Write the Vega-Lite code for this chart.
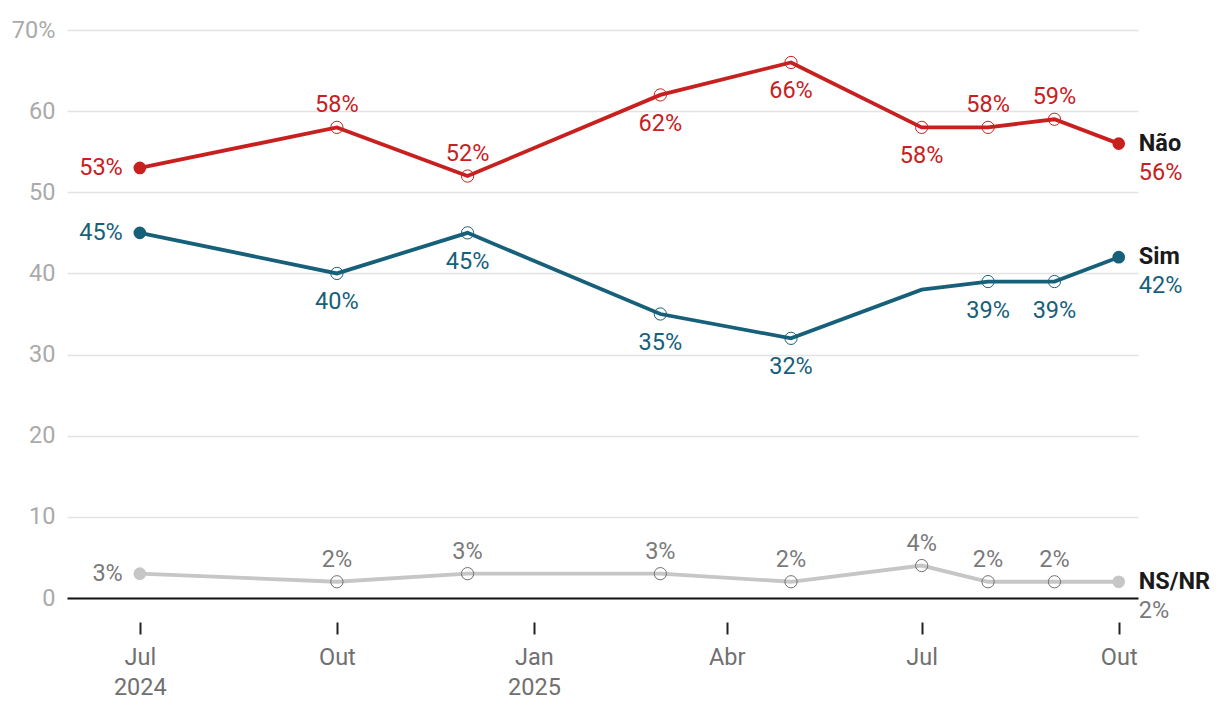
{
  "$schema": "https://vega.github.io/schema/vega-lite/v6.json",
  "width": 1071,
  "height": 568,
  "autosize": {"type": "none"},
  "padding": {"left": 67, "top": 30, "right": 82, "bottom": 114},
  "background": "white",
  "config": {"font": "Roboto", "view": {"stroke": null}},
  "data": {
    "values": [
      {"date": "2024-07-01T00:00:00", "series": "Não", "value": 53},
      {"date": "2024-10-01T00:00:00", "series": "Não", "value": 58},
      {"date": "2024-12-01T00:00:00", "series": "Não", "value": 52},
      {"date": "2025-03-01T00:00:00", "series": "Não", "value": 62},
      {"date": "2025-05-01T00:00:00", "series": "Não", "value": 66},
      {"date": "2025-07-01T00:00:00", "series": "Não", "value": 58},
      {"date": "2025-08-01T00:00:00", "series": "Não", "value": 58},
      {"date": "2025-09-01T00:00:00", "series": "Não", "value": 59},
      {"date": "2025-10-01T00:00:00", "series": "Não", "value": 56},
      {"date": "2024-07-01T00:00:00", "series": "Sim", "value": 45},
      {"date": "2024-10-01T00:00:00", "series": "Sim", "value": 40},
      {"date": "2024-12-01T00:00:00", "series": "Sim", "value": 45},
      {"date": "2025-03-01T00:00:00", "series": "Sim", "value": 35},
      {"date": "2025-05-01T00:00:00", "series": "Sim", "value": 32},
      {"date": "2025-07-01T00:00:00", "series": "Sim", "value": 38},
      {"date": "2025-08-01T00:00:00", "series": "Sim", "value": 39},
      {"date": "2025-09-01T00:00:00", "series": "Sim", "value": 39},
      {"date": "2025-10-01T00:00:00", "series": "Sim", "value": 42},
      {"date": "2024-07-01T00:00:00", "series": "NS/NR", "value": 3},
      {"date": "2024-10-01T00:00:00", "series": "NS/NR", "value": 2},
      {"date": "2024-12-01T00:00:00", "series": "NS/NR", "value": 3},
      {"date": "2025-03-01T00:00:00", "series": "NS/NR", "value": 3},
      {"date": "2025-05-01T00:00:00", "series": "NS/NR", "value": 2},
      {"date": "2025-07-01T00:00:00", "series": "NS/NR", "value": 4},
      {"date": "2025-08-01T00:00:00", "series": "NS/NR", "value": 2},
      {"date": "2025-09-01T00:00:00", "series": "NS/NR", "value": 2},
      {"date": "2025-10-01T00:00:00", "series": "NS/NR", "value": 2}
    ],
    "format": {"parse": {"date": "date"}}
  },
  "transform": [
    {"calculate": "datum.value + '%'", "as": "label"},
    {"calculate": "timeFormat(datum.date, '%Y-%m')", "as": "ym"}
  ],
  "encoding": {
    "x": {
      "field": "date",
      "type": "temporal",
      "scale": {"domain": [{"year": 2024, "month": 5, "date": 28}, {"year": 2025, "month": 10, "date": 10}]},
      "axis": {
        "title": null,
        "domain": false,
        "grid": false,
        "offset": 24,
        "tickSize": 12,
        "tickColor": "#222222",
        "tickWidth": 2,
        "labelPadding": 11,
        "labelFontSize": 23.5,
        "labelColor": "#707070",
        "labelLineHeight": 30,
        "labelBaseline": "top",
        "values": [
          {"year": 2024, "month": 7, "date": 1},
          {"year": 2024, "month": 10, "date": 1},
          {"year": 2025, "month": 1, "date": 1},
          {"year": 2025, "month": 4, "date": 1},
          {"year": 2025, "month": 7, "date": 1},
          {"year": 2025, "month": 10, "date": 1}
        ],
        "labelExpr": "(month(datum.value) == 0 || (year(datum.value) == 2024 && month(datum.value) == 6)) ? [['Jan','Fev','Mar','Abr','Mai','Jun','Jul','Ago','Set','Out','Nov','Dez'][month(datum.value)], '' + year(datum.value)] : ['Jan','Fev','Mar','Abr','Mai','Jun','Jul','Ago','Set','Out','Nov','Dez'][month(datum.value)]"
      }
    },
    "y": {
      "field": "value",
      "type": "quantitative",
      "scale": {"domain": [0, 70]},
      "axis": {
        "title": null,
        "domain": false,
        "ticks": false,
        "values": [0, 10, 20, 30, 40, 50, 60, 70],
        "labelFontSize": 23.5,
        "labelColor": "#aaaaaa",
        "labelPadding": 12,
        "gridColor": {"condition": {"test": "datum.value === 0", "value": "#111111"}, "value": "#e3e3e3"},
        "gridWidth": {"condition": {"test": "datum.value === 0", "value": 2}, "value": 1.5},
        "labelExpr": "datum.value == 70 ? '70%' : datum.label"
      }
    }
  },
  "layer": [
    {
      "mark": {"type": "line", "strokeWidth": 3.8},
      "encoding": {
        "color": {"field": "series", "type": "nominal", "scale": {"domain": ["Não", "Sim", "NS/NR"], "range": ["#c8201e", "#17607a", "#c6c6c6"]}, "legend": null}
      }
    },
    {
      "transform": [{"filter": "datum.ym != '2024-07' && datum.ym != '2025-10' && !(datum.series == 'Sim' && datum.ym == '2025-07')"}],
      "mark": {"type": "point", "shape": "circle", "filled": false, "size": 150, "strokeWidth": 1, "opacity": 1},
      "encoding": {
        "stroke": {"field": "series", "type": "nominal", "scale": {"domain": ["Não", "Sim", "NS/NR"], "range": ["#c8201e", "#17607a", "#707070"]}, "legend": null}
      }
    },
    {
      "transform": [{"filter": "datum.ym == '2024-07' || datum.ym == '2025-10'"}],
      "mark": {"type": "circle", "size": 160, "opacity": 1},
      "encoding": {
        "color": {"field": "series", "type": "nominal", "scale": {"domain": ["Não", "Sim", "NS/NR"], "range": ["#c8201e", "#17607a", "#c6c6c6"]}, "legend": null}
      }
    },
    {
      "transform": [{"filter": "datum.ym == '2024-07'"}],
      "mark": {"type": "text", "align": "right", "baseline": "middle", "dx": -17, "fontSize": 23.5},
      "encoding": {
        "text": {"field": "label"},
        "fill": {"field": "series", "type": "nominal", "scale": {"domain": ["Não", "Sim", "NS/NR"], "range": ["#c8201e", "#17607a", "#7a7a7a"]}, "legend": null}
      }
    },
    {
      "transform": [{"filter": "datum.ym != '2024-07' && datum.ym != '2025-10' && (datum.series == 'NS/NR' || (datum.series == 'Não' && indexof(['2024-10','2024-12','2025-08','2025-09'], datum.ym) >= 0))"}],
      "mark": {"type": "text", "align": "center", "baseline": "middle", "dy": -22, "fontSize": 23.5},
      "encoding": {
        "text": {"field": "label"},
        "fill": {"field": "series", "type": "nominal", "scale": {"domain": ["Não", "Sim", "NS/NR"], "range": ["#c8201e", "#17607a", "#7a7a7a"]}, "legend": null}
      }
    },
    {
      "transform": [{"filter": "datum.ym != '2024-07' && datum.ym != '2025-10' && ((datum.series == 'Não' && indexof(['2025-03','2025-05','2025-07'], datum.ym) >= 0) || (datum.series == 'Sim' && datum.ym != '2025-07'))"}],
      "mark": {"type": "text", "align": "center", "baseline": "middle", "dy": 29, "fontSize": 23.5},
      "encoding": {
        "text": {"field": "label"},
        "fill": {"field": "series", "type": "nominal", "scale": {"domain": ["Não", "Sim", "NS/NR"], "range": ["#c8201e", "#17607a", "#7a7a7a"]}, "legend": null}
      }
    },
    {
      "transform": [{"filter": "datum.ym == '2025-10'"}],
      "mark": {"type": "text", "align": "left", "baseline": "middle", "dx": 20, "fontSize": 23.5, "fontWeight": "bold", "color": "#1a1a1a"},
      "encoding": {"text": {"field": "series"}}
    },
    {
      "transform": [{"filter": "datum.ym == '2025-10'"}],
      "mark": {"type": "text", "align": "left", "baseline": "middle", "dx": 20, "dy": 29, "fontSize": 23.5},
      "encoding": {
        "text": {"field": "label"},
        "fill": {"field": "series", "type": "nominal", "scale": {"domain": ["Não", "Sim", "NS/NR"], "range": ["#c8201e", "#17607a", "#7a7a7a"]}, "legend": null}
      }
    }
  ]
}
